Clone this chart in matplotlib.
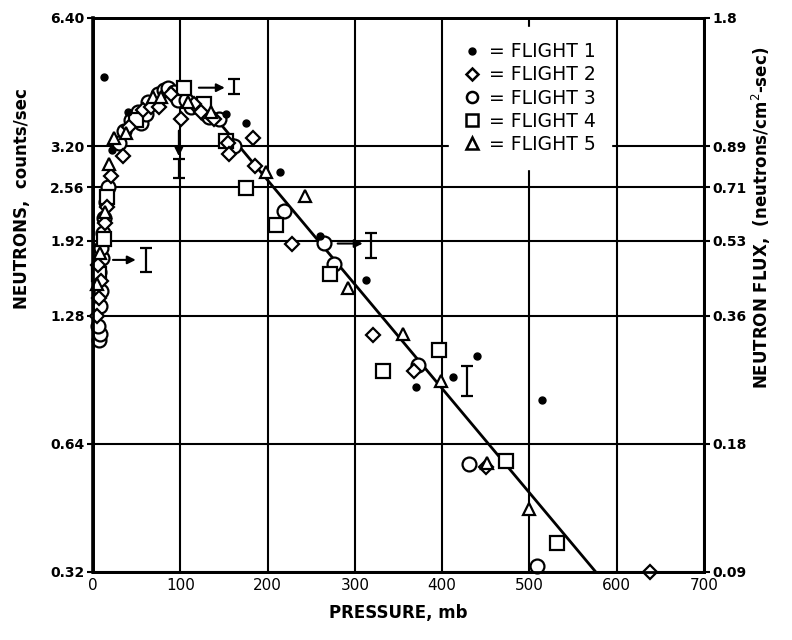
import numpy as np
import matplotlib
matplotlib.use("Agg")
import matplotlib.pyplot as plt
from matplotlib.lines import Line2D

# ---- data (pressure mb, neutrons counts/sec) ----
f1_x = [12.6, 40.0, 21.7, 152.2, 175.1, 214.0, 259.7, 312.4, 369.6, 411.9, 439.4, 514.9]
f1_y = [4.64, 3.84, 3.14, 3.80, 3.63, 2.78, 1.97, 1.55, 0.87, 0.92, 1.03, 0.81]

f2_x = [4.6, 6.9, 9.2, 5.7, 13.7, 16.0, 20.6, 34.3, 41.2, 57.2, 66.4, 75.5, 89.2, 100.7,
        115.6, 123.6, 138.4, 154.5, 155.6, 183.1, 185.4, 227.7, 320.4, 367.3, 450.8, 638.4]
f2_y = [1.28, 1.41, 1.54, 1.68, 2.11, 2.30, 2.73, 3.03, 3.54, 3.90, 3.95, 3.95, 4.25, 3.70,
        4.02, 3.84, 3.70, 3.26, 3.07, 3.35, 2.87, 1.89, 1.15, 0.95, 0.563, 0.32]

f3_x = [6.9, 8.0, 5.7, 8.0, 9.2, 6.9, 10.3, 9.2, 11.4, 12.6, 14.9, 17.2, 29.7, 35.5,
        43.5, 51.5, 54.9, 60.6, 62.9, 72.1, 74.4, 81.2, 85.8, 92.7, 97.3, 106.4, 112.1,
        121.3, 129.3, 132.7, 144.2, 161.3, 218.5, 264.3, 275.7, 371.9, 430.2, 509.2]
f3_y = [1.12, 1.16, 1.21, 1.35, 1.46, 1.62, 1.75, 1.84, 2.00, 2.17, 2.37, 2.57, 3.26, 3.48,
        3.68, 3.84, 3.63, 3.80, 4.06, 4.06, 4.25, 4.34, 4.39, 4.29, 4.11, 4.11, 3.95,
        3.99, 3.80, 3.74, 3.70, 3.20, 2.25, 1.90, 1.69, 0.98, 0.575, 0.330]

f4_x = [6.9, 12.6, 16.0, 49.2, 104.1, 127.0, 152.2, 175.1, 209.4, 271.2, 331.8, 395.9,
        473.7, 532.0]
f4_y = [1.60, 1.94, 2.43, 3.68, 4.39, 4.02, 3.29, 2.55, 2.09, 1.60, 0.95, 1.06,
        0.584, 0.374]

f5_x = [4.6, 8.0, 13.7, 18.3, 24.0, 37.8, 68.6, 77.8, 108.7, 135.0, 197.9, 242.6,
        291.8, 354.7, 398.2, 451.9, 500.0]
f5_y = [1.52, 1.80, 2.24, 2.90, 3.35, 3.44, 4.17, 4.17, 4.06, 3.84, 2.78, 2.45,
        1.49, 1.16, 0.90, 0.578, 0.449]

# fitted line (log-linear)
fit_x = [146.5, 576.0]
fit_y = [3.60, 0.32]

# error-bar symbols: x, y, lower, upper
err_x = [60.6, 161.3, 318.0, 428.0, 98.4]
err_y = [1.73, 4.44, 1.87, 0.90, 2.84]
err_lo = [1.62, 4.25, 1.75, 0.83, 2.70]
err_hi = [1.84, 4.61, 2.00, 0.977, 2.98]

# arrows: (x0, y0) -> (x1, y1)
arrows = [((22.9, 1.73), (49.0, 1.73)),
          ((121.3, 4.39), (151.0, 4.39)),
          ((280.3, 1.89), (309.0, 1.89)),
          ((98.4, 3.48), (98.4, 3.03))]

left_ticks = [0.32, 0.64, 1.28, 1.92, 2.56, 3.20, 6.40]
left_labels = ['0.32', '0.64', '1.28', '1.92', '2.56', '3.20', '6.40']
right_labels = ['0.09', '0.18', '0.36', '0.53', '0.71', '0.89', '1.8']
x_ticks = [0, 100, 200, 300, 400, 500, 600, 700]

fig = plt.figure(figsize=(7.92, 6.40), dpi=100)
ax = fig.add_axes([0.1174, 0.1063, 0.7715, 0.8656])

ax.set_yscale('log')
ax.set_xlim(0, 700)
ax.set_ylim(0.32, 6.40)

ax.set_yticks(left_ticks)
ax.set_yticklabels(left_labels, fontsize=10, fontweight='bold')
ax.yaxis.set_minor_locator(matplotlib.ticker.NullLocator())
ax.set_xticks(x_ticks)
ax.set_xticklabels([str(v) for v in x_ticks], fontsize=11)
ax.grid(True, which='major', color='black', linewidth=1.5)
ax.set_axisbelow(True)
ax.tick_params(axis='y', length=4, width=1.5, pad=2)
ax.tick_params(axis='x', length=0, pad=4)
for s in ax.spines.values():
    s.set_linewidth(2.0)
ax.spines['left'].set_linewidth(2.6)

ax2 = ax.twinx()
ax2.set_yscale('log')
ax2.set_ylim(0.32, 6.40)
ax2.set_yticks(left_ticks)
ax2.set_yticklabels(right_labels, fontsize=10, fontweight='bold')
ax2.yaxis.set_minor_locator(matplotlib.ticker.NullLocator())
ax2.tick_params(axis='y', length=4, width=1.5, pad=2)
for s in ax2.spines.values():
    s.set_linewidth(2.0)

ax.plot(fit_x, fit_y, color='black', linewidth=2.0, zorder=3)

mk = dict(linestyle='none', markeredgecolor='black', markeredgewidth=1.6,
          markerfacecolor='white', zorder=4, clip_on=False)
ax.plot(f3_x, f3_y, marker='o', markersize=10, **mk)
ax.plot(f4_x, f4_y, marker='s', markersize=10, **mk)
ax.plot(f2_x, f2_y, marker='D', markersize=7.5, **mk)
ax.plot(f5_x, f5_y, marker='^', markersize=9, **mk)
ax.plot(f1_x, f1_y, marker='o', markersize=5, linestyle='none', color='black', zorder=5)

ax.errorbar(err_x, err_y,
            yerr=[np.array(err_y) - np.array(err_lo), np.array(err_hi) - np.array(err_y)],
            fmt='none', ecolor='black', elinewidth=1.6, capsize=4, capthick=1.6, zorder=5)
for (x0, y0), (x1, y1) in arrows:
    ax.annotate('', xy=(x1, y1), xytext=(x0, y0),
                arrowprops=dict(arrowstyle='-|>', color='black', lw=1.5,
                                mutation_scale=12, shrinkA=0, shrinkB=0), zorder=5)

handles = [
    Line2D([], [], marker='o', markersize=5, linestyle='none', color='black'),
    Line2D([], [], marker='D', markersize=6.5, linestyle='none', markeredgecolor='black',
           markerfacecolor='white', markeredgewidth=1.8),
    Line2D([], [], marker='o', markersize=8, linestyle='none', markeredgecolor='black',
           markerfacecolor='white', markeredgewidth=1.8),
    Line2D([], [], marker='s', markersize=8, linestyle='none', markeredgecolor='black',
           markerfacecolor='white', markeredgewidth=1.8),
    Line2D([], [], marker='^', markersize=8, linestyle='none', markeredgecolor='black',
           markerfacecolor='white', markeredgewidth=1.8),
]
labels = ['= FLIGHT 1', '= FLIGHT 2', '= FLIGHT 3', '= FLIGHT 4', '= FLIGHT 5']
leg = ax.legend(handles, labels, loc='upper left', bbox_to_anchor=(0.568, 1.0),
                frameon=True, facecolor='white', edgecolor='white', framealpha=1,
                fancybox=False, handlelength=0.8, handletextpad=0.5,
                labelspacing=0.22, borderpad=0.8, prop={'size': 13.5})
leg.set_zorder(6)

ax.set_xlabel('PRESSURE, mb', fontsize=12, fontweight='bold', labelpad=8)
fig.text(0.028, 0.69, 'NEUTRONS,  counts/sec', rotation=90, fontsize=12,
         fontweight='bold', ha='center', va='center')
fig.text(0.962, 0.66, 'NEUTRON FLUX,  (neutrons/cm$^2$-sec)', rotation=90, fontsize=12,
         fontweight='bold', ha='center', va='center')

fig.savefig('out.png', dpi=100)
